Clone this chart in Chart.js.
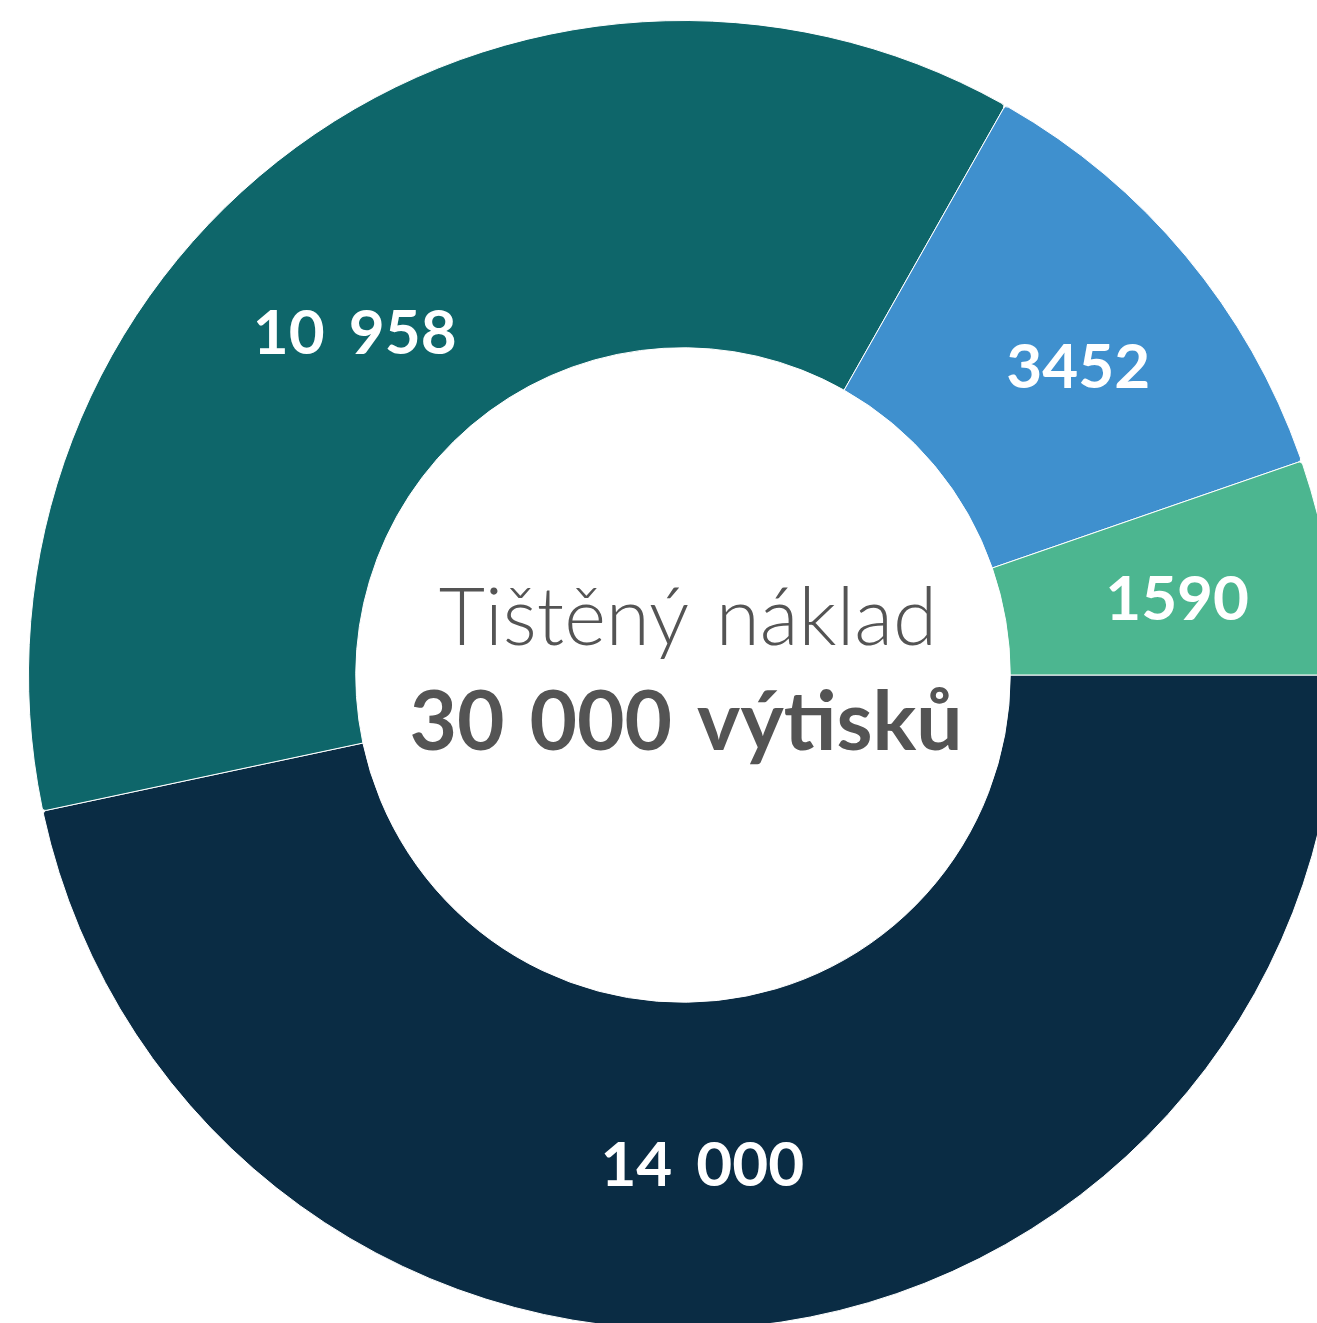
<!DOCTYPE html>
<html>
<head>
  <meta charset="utf-8">
  <title>Tištěný náklad</title>
  <script src="https://cdn.jsdelivr.net/npm/chart.js@4.4.0/dist/chart.umd.min.js"></script>
  <style>
    html, body { margin: 0; padding: 0; background: #ffffff; overflow: hidden; width: 1317px; height: 1323px; }
    #wrap { position: absolute; left: 28px; top: 20px; width: 1310px; height: 1310px; }
  </style>
</head>
<body>
  <div id="wrap"><canvas id="myChart" width="1310" height="1310"></canvas></div>
  <script>
    // data, clockwise from 3 o'clock
    let labels = ["14 000", "10 958", "3452", "1590"];
    let values = [14000, 10958, 3452, 1590];
    let colors = ["#0a2c44", "#0e666a", "#3f90ce", "#4cb690"];
    let centerTitle = "Tištěný náklad";
    let centerTotal = "30 000 výtisků";

    // labels in the original are not exactly at the slice middle, small nudges
    const labelNudge = [[-32, 3], [-38, 55], [18, 7], [10, 6]];

    // white value labels in each slice + text in the hole
    const textPlugin = {
      id: 'textPlugin',
      afterDraw(chart) {
        const ctx = chart.ctx;
        const meta = chart.getDatasetMeta(0);
        ctx.save();
        ctx.fillStyle = "#ffffff";
        ctx.font = "700 62px Lato";
        ctx.wordSpacing = "9px";
        ctx.textAlign = "center";
        ctx.textBaseline = "middle";
        meta.data.forEach((arc, i) => {
          const p = arc.tooltipPosition();
          ctx.fillText(labels[i], p.x + labelNudge[i][0], p.y + labelNudge[i][1]);
        });
        const c = meta.data[0];
        ctx.fillStyle = "#545454";
        ctx.textBaseline = "alphabetic";
        ctx.wordSpacing = "5px";
        ctx.font = "300 80px Lato";
        ctx.fillText(centerTitle, c.x + 5, c.y - 30);
        ctx.font = "700 82px Lato";
        ctx.fillText(centerTotal, c.x + 3, c.y + 75);
        ctx.restore();
      }
    };

    var chart = new Chart(document.getElementById('myChart').getContext('2d'), {
      type: 'doughnut',
      data: {
        labels: labels,
        datasets: [{
          data: values,
          backgroundColor: colors,
          borderColor: "#ffffff",
          borderWidth: 1,
          borderRadius: { outerStart: 4, outerEnd: 4, innerStart: 0, innerEnd: 0 }
        }]
      },
      options: {
        responsive: false,
        animation: false,
        rotation: 90,
        cutout: '50%',
        layout: { padding: 0 },
        plugins: {
          legend: { display: false },
          tooltip: { enabled: false }
        }
      },
      plugins: [textPlugin]
    });
  </script>
</body>
</html>
